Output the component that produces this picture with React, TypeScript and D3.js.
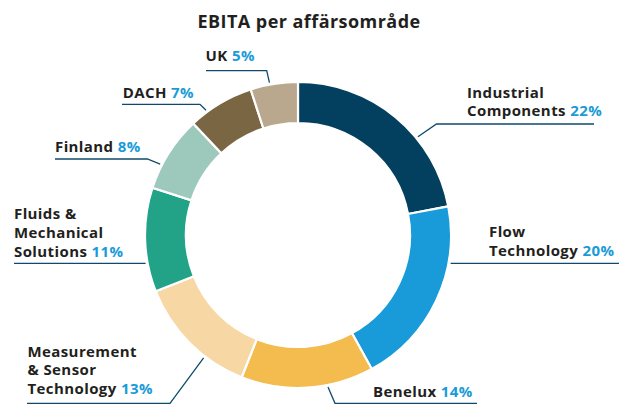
import React from "react";
import * as d3 from "d3";

const categories = [
  "Industrial Components",
  "Flow Technology",
  "Benelux",
  "Measurement & Sensor Technology",
  "Fluids & Mechanical Solutions",
  "Finland",
  "DACH",
  "UK",
];
const values = [22, 20, 14, 13, 11, 8, 7, 5];
const colors = ["#033f5f", "#189bd8", "#f4bb4e", "#f7d8a4", "#22a387", "#9dc9bc", "#7a6642", "#b9a88d"];
const labelLines = [
  ["Industrial", "Components"],
  ["Flow", "Technology"],
  ["Benelux"],
  ["Measurement", "& Sensor", "Technology"],
  ["Fluids &", "Mechanical", "Solutions"],
  ["Finland"],
  ["DACH"],
  ["UK"],
];
const title = "EBITA per affärsområde";

// label layout: x, first baseline, leader y, elbow x (null = straight), leader end x, anchor fraction within slice
const layout = [
  { x: 467, y: 97.5, ly: 124, ex: 436.5, end: 594, t: 0.64 },
  { x: 489, y: 237, ly: 263.3, ex: null, end: 619, t: 0.29 },
  { x: 373, y: 396.7, ly: 403.3, ex: 335, end: 477, t: 0.35 },
  { x: 27.5, y: 356.7, ly: 403.3, ex: 170, end: 27, t: 0.34 },
  { x: 14, y: 219.3, ly: 263.3, ex: null, end: 14, t: 0.28 },
  { x: 55, y: 151.7, ly: 159, ex: 147.3, end: 55, t: 0.32 },
  { x: 122.7, y: 98.3, ly: 104.3, ex: 200, end: 122, t: 0.27 },
  { x: 205.5, y: 60.7, ly: 70.7, ex: 266.7, end: 206, t: 0.41 },
];

const W = 619;
const H = 405;
const cx = 298;
const cy = 235;
const rOuter = 153;
const rInner = 112;
const lineH = 18.6;
const font = "'Open Sans', 'Noto Sans', sans-serif";

export default function App() {
  const pie = d3
    .pie<number>()
    .sort(null)
    .value((d) => d)
    .startAngle(0)
    .endAngle(2 * Math.PI);
  const arcs = pie(values);
  const arc = d3.arc<d3.PieArcDatum<number>>().innerRadius(rInner).outerRadius(rOuter);

  return (
    <svg
      width={W}
      height={H}
      style={{ position: "absolute", left: 0, top: 0, background: "#fff" }}
      fontFamily={font}
    >
      <text x={309} y={28} textAnchor="middle" fontSize={18} fontWeight={700} letterSpacing={0.45} fill="#231f20">
        {title}
      </text>
      <g transform={`translate(${cx},${cy})`}>
        {arcs.map((a, i) => (
          <path key={categories[i]} d={arc(a) || ""} fill={colors[i]} stroke="#fff" strokeWidth={2.2} />
        ))}
      </g>
      {arcs.map((a, i) => {
        const L = layout[i];
        const ang = a.startAngle + (a.endAngle - a.startAngle) * L.t;
        const r = rOuter + 2;
        const ax = cx + r * Math.sin(ang);
        const ay = cy - r * Math.cos(ang);
        const pts: [number, number][] =
          L.ex === null
            ? [
                [ax, L.ly],
                [L.end, L.ly],
              ]
            : [
                [ax, ay],
                [L.ex, L.ly],
                [L.end, L.ly],
              ];
        const lines = labelLines[i];
        return (
          <g key={"lab" + i}>
            <path d={d3.line()(pts) || ""} fill="none" stroke="#0f4a6c" strokeWidth={1.3} />
            <text x={L.x} y={L.y} fontSize={15} fontWeight={700} letterSpacing={0.4} fill="#231f20">
              {lines.map((s, j) => (
                <tspan key={j} x={L.x} y={L.y + j * lineH}>
                  {s}
                  {j === lines.length - 1 ? (
                    <tspan fill="#1a9bd7">{" " + values[i] + "%"}</tspan>
                  ) : null}
                </tspan>
              ))}
            </text>
          </g>
        );
      })}
    </svg>
  );
}
